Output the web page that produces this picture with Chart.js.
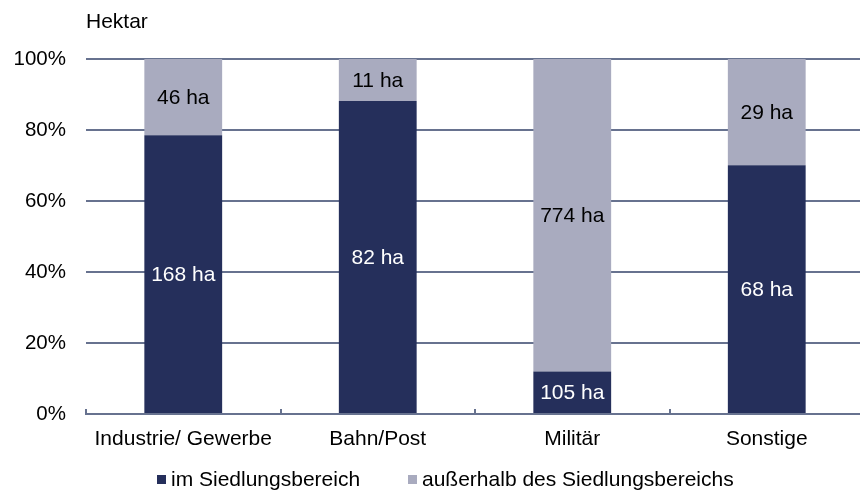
<!DOCTYPE html>
<html>
<head>
<meta charset="utf-8">
<script src="https://cdn.jsdelivr.net/npm/chart.js@4"></script>
<style>
  html, body { margin: 0; padding: 0; background: #fff; overflow: hidden; }
  #wrap { width: 864px; height: 491px; }
</style>
</head>
<body>
<div id="wrap"><canvas id="barChart" width="864" height="491"></canvas></div>
<script>
// Flächen in Hektar
var categories = ['Industrie/ Gewerbe', 'Bahn/Post', 'Militär', 'Sonstige'];
var imSiedlung = [168, 82, 105, 68];
var ausserhalb = [46, 11, 774, 29];
var yTicks = [0, 20, 40, 60, 80, 100];

var dark = '#252f5b';
var light = '#a9abbf';
var gridColor = '#67728f';
var fontStr = '21px "Liberation Sans", Arial, sans-serif';

// Anteile (100% gestapelt)
var shareIn = imSiedlung.map(function(v, i){ return v / (v + ausserhalb[i]) * 100; });
var shareOut = ausserhalb.map(function(v, i){ return v / (imSiedlung[i] + v) * 100; });

Chart.defaults.font.family = '"Liberation Sans", Arial, sans-serif';
Chart.defaults.font.size = 21;
Chart.defaults.color = '#000';

var labelPlugin = {
    id: 'haLabels',
    afterDatasetsDraw: function(chart){
        var ctx = chart.ctx;
        ctx.save();
        ctx.font = fontStr;
        ctx.textAlign = 'center';
        ctx.textBaseline = 'middle';
        chart.data.datasets.forEach(function(ds, di){
            var meta = chart.getDatasetMeta(di);
            meta.data.forEach(function(bar, i){
                ctx.fillStyle = di === 0 ? '#fff' : '#000';
                ctx.fillText(ds.ha[i] + ' ha', bar.x, (bar.y + bar.base) / 2 + 1);
            });
        });
        ctx.restore();
    }
};

var extrasPlugin = {
    id: 'extras',
    beforeDatasetsDraw: function(chart){
        // kleine Teilstriche zwischen den Kategorien
        var ctx = chart.ctx;
        var x = chart.scales.x;
        var bottom = chart.chartArea.bottom;
        ctx.save();
        ctx.strokeStyle = gridColor;
        ctx.lineWidth = 2;
        for (var i = 0; i < categories.length; i++) {
            var half = (x.getPixelForValue(1) - x.getPixelForValue(0)) / 2;
            var px = Math.round(x.getPixelForValue(i) - half);
            ctx.beginPath();
            ctx.moveTo(px, bottom);
            ctx.lineTo(px, bottom - 5);
            ctx.stroke();
        }
        ctx.restore();
    },
    afterDraw: function(chart){
        var ctx = chart.ctx;
        ctx.save();
        ctx.font = fontStr;
        ctx.textBaseline = 'middle';
        ctx.fillStyle = '#000';
        ctx.textAlign = 'left';
        ctx.fillText('Hektar', chart.chartArea.left, 22);

        // Legende
        var legendX = [157, 408];
        chart.data.datasets.forEach(function(ds, di){
            ctx.fillStyle = ds.backgroundColor;
            ctx.fillRect(legendX[di], 475, 9, 9);
            ctx.fillStyle = '#000';
            ctx.fillText(ds.label, legendX[di] + 14, 480);
        });
        ctx.restore();
    }
};

new Chart(document.getElementById('barChart'), {
    type: 'bar',
    data: {
        labels: categories,
        datasets: [
            {
                label: 'im Siedlungsbereich',
                data: shareIn,
                ha: imSiedlung,
                backgroundColor: dark,
                barPercentage: 0.4,
                categoryPercentage: 1
            },
            {
                label: 'außerhalb des Siedlungsbereichs',
                data: shareOut,
                ha: ausserhalb,
                backgroundColor: light,
                barPercentage: 0.4,
                categoryPercentage: 1
            }
        ]
    },
    options: {
        responsive: false,
        devicePixelRatio: 1,
        animation: false,
        layout: {
            padding: { top: 59, left: 0, right: 0, bottom: 40 }
        },
        scales: {
            x: {
                stacked: true,
                grid: { display: false, drawTicks: false },
                border: { display: true, color: gridColor, width: 2 },
                ticks: { padding: 13, color: '#000', font: { size: 21 } },
                afterFit: function(scale){ scale.height = 37; }
            },
            y: {
                stacked: true,
                min: 0,
                max: 100,
                afterBuildTicks: function(scale){
                    scale.ticks = yTicks.map(function(v){ return { value: v }; });
                },
                ticks: {
                    padding: 20,
                    color: '#000',
                    font: { size: 20.5 },
                    callback: function(v){ return v + '%'; }
                },
                grid: { color: gridColor, lineWidth: 2, drawTicks: false },
                border: { display: false },
                afterFit: function(scale){ scale.width = 86; }
            }
        },
        plugins: {
            legend: { display: false },
            tooltip: { enabled: false }
        }
    },
    plugins: [extrasPlugin, labelPlugin]
});
</script>
</body>
</html>
